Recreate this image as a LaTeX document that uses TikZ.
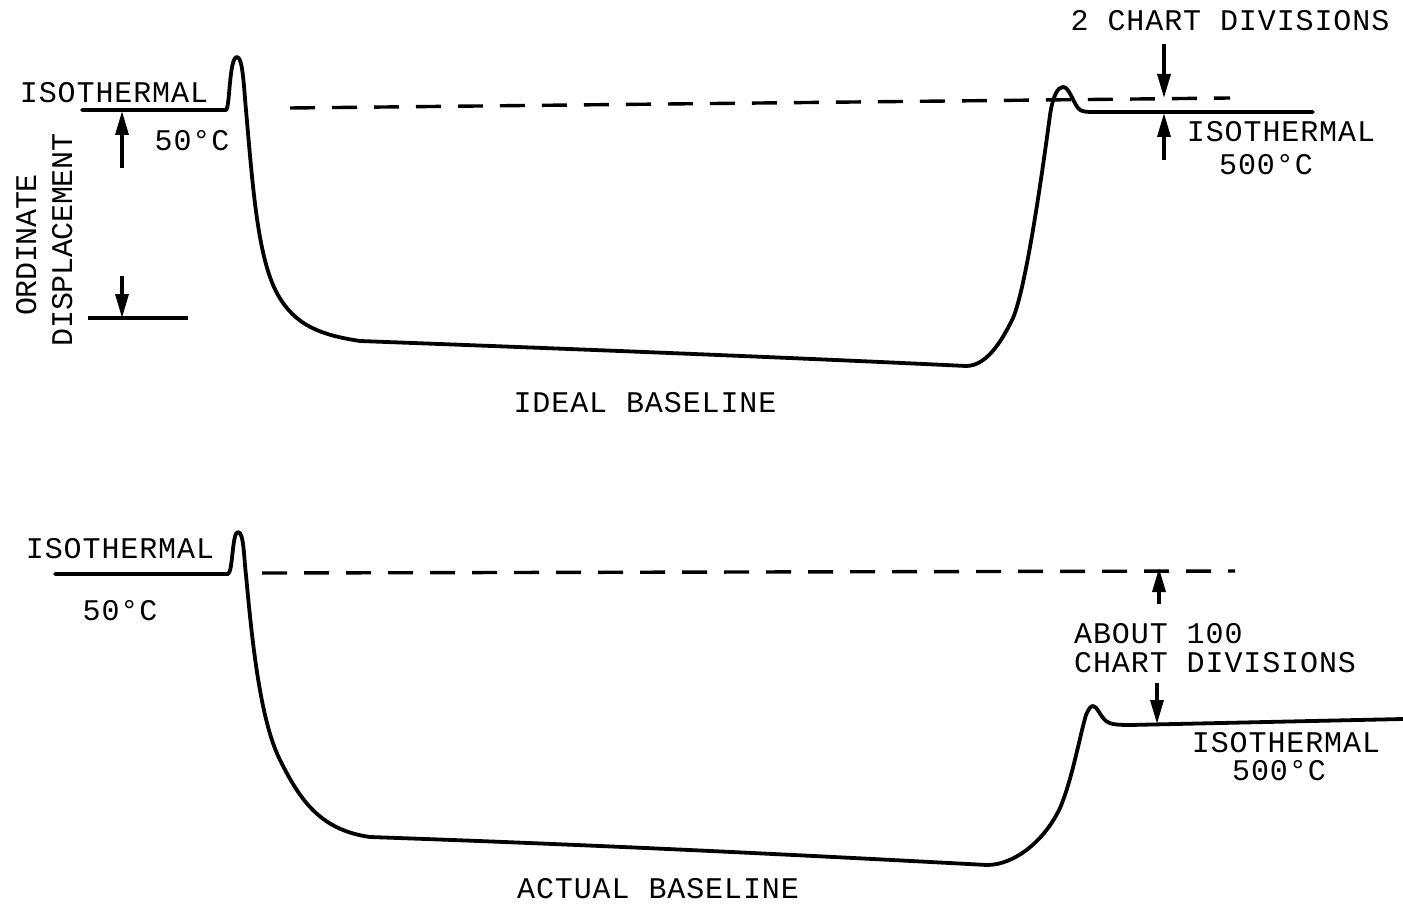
\documentclass[tikz,border=0pt]{standalone}
\usepackage{fontspec}
\newfontfamily\plt{Liberation Mono}[LetterSpace=3]
\newfontfamily\pltr{Liberation Mono}[LetterSpace=-1]
\usetikzlibrary{arrows.meta}
\tikzset{
  curve/.style={line width=3.8pt, line join=round, line cap=round},
  dashline/.style={line width=3.4pt, dash pattern=on 25pt off 17pt},
  dimarrow/.style={line width=3.4pt, -{Triangle[length=24pt,width=13pt]}},
  tick/.style={line width=3.4pt},
  lbl/.style={font=\plt\fontsize{30}{34}\selectfont, inner sep=0pt, anchor=base},
  lbll/.style={lbl, anchor=base west},
  lblr/.style={font=\pltr\fontsize{30}{34}\selectfont, inner sep=0pt, anchor=base, rotate=90},
}
\begin{document}
\begin{tikzpicture}[x=1pt,y=-1pt]
\useasboundingbox (0,0) rectangle (1403,904);
% ---------- top (ideal) curve ----------
\draw[curve] (82,110) -- (226,110)
  .. controls (230,108) and (229,57) .. (237,57)
  .. controls (243,57) and (244,90) .. (246,110)
  .. controls (253,190) and (258,260) .. (278,295)
  .. controls (295,325) and (320,335) .. (360,341)
  .. controls (600,350) and (800,358) .. (966,366)
  .. controls (985,366) and (1000,345) .. (1013,318)
  .. controls (1025,290) and (1040,190) .. (1050,115)
  .. controls (1053,95) and (1058,87) .. (1063,87)
  .. controls (1069,87) and (1072,100) .. (1078,108)
  .. controls (1081,112) and (1086,112) .. (1095,112)
  -- (1313,112);
\draw[dashline] (290,108) -- (1230,98);
% left dimension
\coordinate (t1) at (122,168); \coordinate (t2) at (122,111);
\draw[dimarrow] (t1) -- (t2);
\coordinate (b1) at (122,276); \coordinate (b2) at (122,318);
\draw[dimarrow] (b1) -- (b2);
\coordinate (l1) at (88,318); \coordinate (l2) at (188,318);
\draw[tick] (l1) -- (l2);
% right dimension
\coordinate (r1) at (1164,44); \coordinate (r2) at (1164,98);
\draw[dimarrow] (r1) -- (r2);
\coordinate (r3) at (1164,160); \coordinate (r4) at (1164,113);
\draw[dimarrow] (r3) -- (r4);
% top labels
\node[lbl] (iso1) at (114,103) {ISOTHERMAL};
\node[lbl] (c50a) at (192,151) {50°C};
\node[lbl] (twocd) at (1230,31) {2 CHART DIVISIONS};
\node[lbl] (iso2) at (1281,142) {ISOTHERMAL};
\node[lbl] (c500a) at (1266,175) {500°C};
\node[lbl] (ideal) at (645,412) {IDEAL BASELINE};
\node[lblr] (ord) at (36,245) {ORDINATE};
\node[lblr] (disp) at (72,240) {DISPLACEMENT};
% ---------- bottom (actual) curve ----------
\draw[curve] (55,574) -- (228,574)
  .. controls (233,572) and (232,532) .. (238,532)
  .. controls (244,532) and (244,560) .. (246,575)
  .. controls (252,640) and (260,720) .. (280,760)
  .. controls (300,800) and (320,830) .. (370,837)
  .. controls (600,845) and (800,855) .. (987,865)
  .. controls (1015,865) and (1045,840) .. (1060,808)
  .. controls (1072,780) and (1080,735) .. (1086,715)
  .. controls (1089,708) and (1091,706) .. (1093,706)
  .. controls (1097,706) and (1100,716) .. (1106,721)
  .. controls (1110,724) and (1115,725) .. (1130,725)
  -- (1403,719);
\draw[dashline] (262,573) -- (1235,571);
% right dimension bottom
\coordinate (s1) at (1159,604); \coordinate (s2) at (1159,568);
\draw[dimarrow] (s1) -- (s2);
\coordinate (s3) at (1157,683); \coordinate (s4) at (1157,724);
\draw[dimarrow] (s3) -- (s4);
% bottom labels
\node[lbl] (iso3) at (120,558) {ISOTHERMAL};
\node[lbl] (c50b) at (120,620) {50°C};
\node[lbll] (about) at (1074,643) {ABOUT 100};
\node[lbll] (chart) at (1074,672) {CHART DIVISIONS};
\node[lbl] (iso4) at (1286,752) {ISOTHERMAL};
\node[lbl] (c500b) at (1279,780) {500°C};
\node[lbl] (actual) at (658,898) {ACTUAL BASELINE};
\end{tikzpicture}
\end{document}
